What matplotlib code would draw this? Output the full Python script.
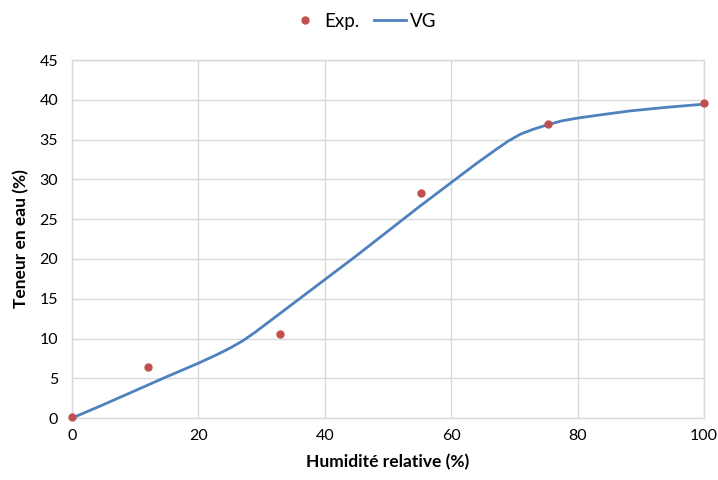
import matplotlib
matplotlib.use("Agg")
import matplotlib.pyplot as plt

plt.rcParams['font.family'] = ['Lato', 'DejaVu Sans']

# experimental points
exp_x = [0, 12, 32.9, 55.2, 75.3, 100]
exp_y = [0.1, 6.4, 10.6, 28.3, 36.9, 39.6]

# VG model curve
vg_x = [0, 5, 10, 15, 20, 23, 25, 27, 29, 31, 33, 36, 40, 45, 50, 55, 60, 64, 67, 69,
        71, 73, 75.2, 77.5, 80, 84, 88.3, 94, 100]
vg_y = [0, 1.7, 3.45, 5.2, 6.9, 8.0, 8.8, 9.7, 10.8, 12.0, 13.2, 15.0, 17.4, 20.4, 23.5, 26.6, 29.6, 32.0, 33.7, 34.8,
        35.7, 36.3, 36.85, 37.35, 37.7, 38.15, 38.6, 39.05, 39.45]

fig = plt.figure(figsize=(7.18, 4.8), dpi=100)
ax = fig.add_axes([0.1003, 0.129, 0.8802, 0.746])

ax.plot(exp_x, exp_y, linestyle="none", marker="o", markersize=5, color="#C0504D", label="Exp.", zorder=3, clip_on=False)
ax.plot(vg_x, vg_y, color="#4F81BD", linewidth=2, label="VG", zorder=2, clip_on=False)

ax.set_xlim(0, 100)
ax.set_ylim(0, 45)
ax.set_xticks([0, 20, 40, 60, 80, 100])
ax.set_yticks(range(0, 46, 5))
ax.grid(True, color="#D9D9D9", linewidth=1)
ax.set_axisbelow(True)
for s in ax.spines.values():
    s.set_color("#D9D9D9")
    s.set_linewidth(1)
ax.tick_params(length=0, labelsize=11.5, pad=8)
ax.tick_params(axis="y", pad=10)

ax.set_xlabel("Humidité relative (%)", fontsize=12.5, fontweight="bold", labelpad=8)
ax.set_ylabel("Teneur en eau (%)", fontsize=12.5, fontweight="bold", labelpad=7)

fig.legend(loc="center", bbox_to_anchor=(0.505, 0.956), ncol=2, frameon=False, fontsize=13.5,
           handlelength=1.7, columnspacing=0.8, handletextpad=0.2)

fig.savefig("out.png", dpi=100)
